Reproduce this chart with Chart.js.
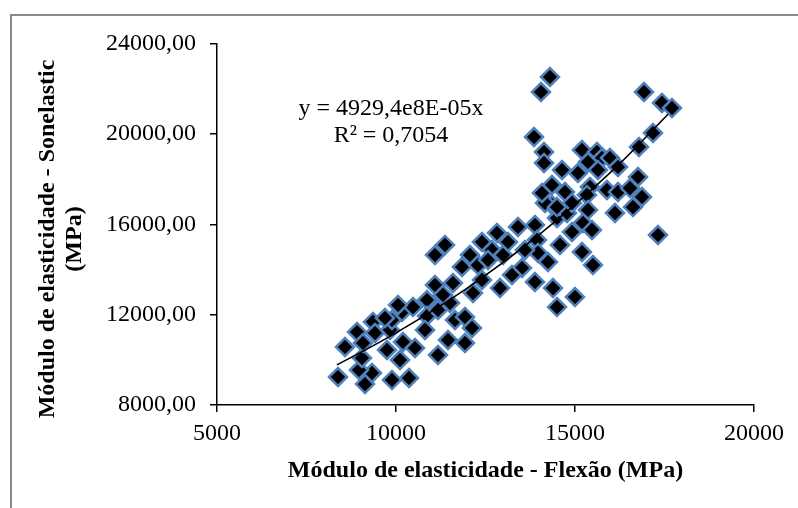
<!DOCTYPE html>
<html><head><meta charset="utf-8">
<script src="https://cdn.jsdelivr.net/npm/chart.js@4.4.0/dist/chart.umd.min.js"></script>
<style>html,body{margin:0;padding:0;background:#fff;overflow:hidden}#wrap{width:798px;height:508px;position:relative}</style>
</head><body><div id="wrap"><canvas id="c" width="798" height="508"></canvas></div>
<script>
// Data
const flexao = [8380,9134,9330,9888,10363,8966,9050,8575,8911,9357,9413,9078,9749,10112,9832,10195,10531,9888,10167,10475,10866,10866,10810,11173,11173,11452,11927,11648,11927,12123,11089,11592,12151,11508,11313,11368,11089,12402,12821,13407,13882,13128,12681,12067,11843,12290,12569,12988,13519,13240,12905,13882,13938,13966,14245,12402,14385,14497,14999,14497,14357,14162,14776,14916,14581,14301,14050,16927,17430,17709,17178,16787,13855,14134,14134,15195,15614,15754,15363,15977,16201,14637,15083,15642,14357,14720,14077,14497,15418,15334,15893,16201,16536,16760,16871,16619,15363,16117,14916,15223,15474,17318,15195,15502,10056,9692,13603];
const sonelastic = [9239,8929,9416,9107,9195,9549,10080,10567,11231,11674,11187,10744,10434,9992,11320,10788,10523,11762,12116,12337,12647,11939,11320,12205,10213,10877,10744,11762,11895,11408,13311,13400,12957,12515,12869,15082,14639,15214,15613,15878,15967,15214,14860,14639,14108,14196,14418,14639,14064,13754,13178,13444,15303,14728,14329,13533,13178,12337,12780,16277,16852,16941,16498,15657,15082,22517,21853,21853,21367,21145,20039,19419,19862,19198,18711,19286,19198,18932,18755,18932,18534,18401,18268,18401,17737,17427,17383,16763,17649,17295,17516,17427,17604,18091,17206,16763,16631,16498,16941,16055,15746,15524,14772,14196,12426,11851,14860];
const trendX = [8350, 10000, 12000, 14000, 16000, 17600];
const trendY = [9774, 11192, 13187, 15537, 18305, 20871];
const xTickValues = [5000, 10000, 15000, 20000];
const yTickValues = [8000, 12000, 16000, 20000, 24000];
const yTickLabels = ['8000,00', '12000,00', '16000,00', '20000,00', '24000,00'];
const xTitle = 'Módulo de elasticidade - Flexão (MPa)';
const yTitleLines = ['Módulo de elasticidade - Sonelastic', '(MPa)'];
const equationLines = ['y = 4929,4e8E-05x', 'R² = 0,7054'];

const FAMILY = '"Liberation Serif", "Times New Roman", serif';
Chart.defaults.font.family = FAMILY;
Chart.defaults.color = '#000';

const points = flexao.map((x, i) => ({x: x, y: sonelastic[i]}));
const trend = trendX.map((x, i) => ({x: x, y: trendY[i]}));

const textPlugin = {
  id: 'texts',
  beforeDraw(chart) {
    const ctx = chart.ctx;
    ctx.save();
    ctx.strokeStyle = '#8a8a8a';
    ctx.lineWidth = 2;
    ctx.beginPath();
    ctx.moveTo(11, 508);
    ctx.lineTo(11, 15);
    ctx.lineTo(798, 15);
    ctx.stroke();
    ctx.restore();
  },
  afterDraw(chart) {
    const ctx = chart.ctx;
    const ca = chart.chartArea;
    ctx.save();
    ctx.fillStyle = '#000';
    ctx.textAlign = 'center';
    ctx.textBaseline = 'middle';
    ctx.font = 'bold 24px ' + FAMILY;
    ctx.fillText(xTitle, (ca.left + ca.right) / 2, 471);
    ctx.save();
    ctx.translate(48, 239);
    ctx.rotate(-Math.PI / 2);
    ctx.fillText(yTitleLines[0], 0, 0);
    ctx.restore();
    ctx.save();
    ctx.translate(75, 239);
    ctx.rotate(-Math.PI / 2);
    ctx.fillText(yTitleLines[1], 0, 0);
    ctx.restore();
    ctx.font = '24px ' + FAMILY;
    ctx.fillText(equationLines[0], 391, 109);
    ctx.fillText(equationLines[1], 391, 136);
    ctx.restore();
  }
};

new Chart(document.getElementById('c'), {
  type: 'scatter',
  data: {
    datasets: [
      {
        type: 'line',
        data: trend,
        borderColor: '#000',
        borderWidth: 1.6,
        pointRadius: 0,
        fill: false,
        tension: 0.4,
        order: 0
      },
      {
        data: points,
        pointStyle: 'rectRot',
        pointRadius: 9,
        pointBackgroundColor: '#000',
        pointBorderColor: '#4f81bd',
        pointBorderWidth: 2.5,
        order: 1
      }
    ]
  },
  plugins: [textPlugin],
  options: {
    responsive: false,
    animation: false,
    devicePixelRatio: 1,
    layout: { padding: { left: 106, top: 43.5, right: 44, bottom: 60 } },
    plugins: { legend: { display: false }, tooltip: { enabled: false } },
    scales: {
      x: {
        type: 'linear',
        min: 5000, max: 20000,
        afterBuildTicks(s) { s.ticks = xTickValues.map(v => ({value: v})); },
        afterFit(s) { s.height = 43; },
        grid: { drawOnChartArea: false, drawTicks: true, tickLength: 7, color: '#000', lineWidth: 1.5 },
        border: { display: true, color: '#000', width: 1.5 },
        ticks: { font: { size: 24 }, padding: 7, color: '#000', maxRotation: 0,
                 callback: (v) => String(v) }
      },
      y: {
        type: 'linear',
        min: 8000, max: 24000,
        afterBuildTicks(s) { s.ticks = yTickValues.map(v => ({value: v})); },
        afterFit(s) { s.width = 111; },
        grid: { drawOnChartArea: false, drawTicks: true, tickLength: 7, color: '#000', lineWidth: 1.5 },
        border: { display: true, color: '#000', width: 1.5 },
        ticks: { font: { size: 24 }, padding: 14, color: '#000',
                 callback: (v) => yTickLabels[yTickValues.indexOf(v)] }
      }
    }
  }
});
</script></body></html>
